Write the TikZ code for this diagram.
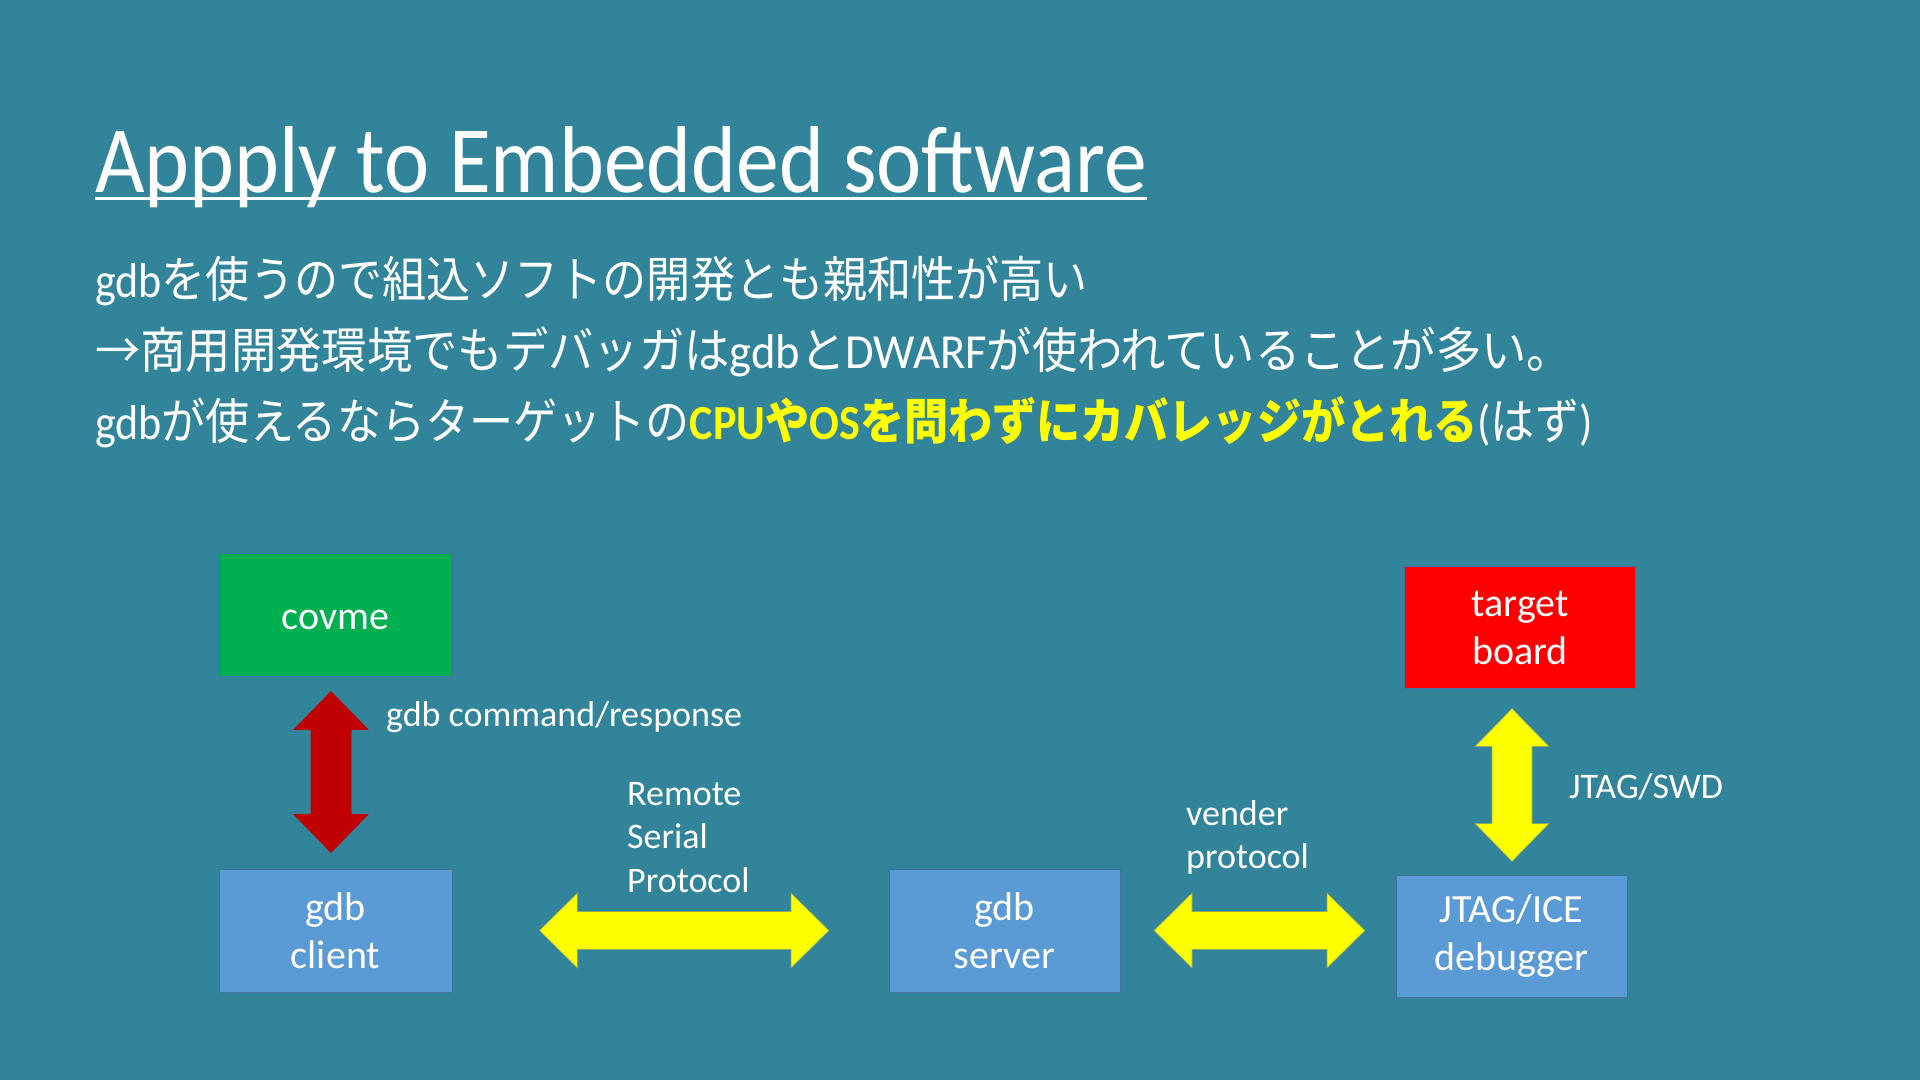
\documentclass[tikz,border=0pt]{standalone}
\usepackage{fontspec}
\setmainfont{Carlito}
\newfontfamily\titlefont[FakeStretch=0.9]{Carlito}
\newfontfamily\latfont[FakeStretch=0.9]{Carlito}
\newfontfamily\jpfont[FakeStretch=0.9]{Noto Sans CJK JP}
\newfontfamily\jpwidefont[FakeStretch=0.925]{Noto Sans CJK JP}
\newfontfamily\latwidefont[FakeStretch=0.95]{Carlito}
\usetikzlibrary{calc}
\definecolor{bg}{RGB}{50,132,155}
\definecolor{boxblue}{RGB}{91,155,213}
\definecolor{boxedge}{RGB}{65,113,156}
\definecolor{boxgreen}{RGB}{0,176,80}
\definecolor{boxred}{RGB}{255,0,0}
\definecolor{darkred}{RGB}{192,0,0}
\definecolor{arrowyellow}{RGB}{255,255,0}
\newcommand{\jpt}[1]{{\jpfont #1}}
\newcommand{\ltn}[1]{{\latfont #1}}
\newcommand{\jpw}[1]{{\jpwidefont #1}}
\newcommand{\ltw}[1]{{\latwidefont #1}}
% vertical double block arrow from top tip #1 to bottom tip #2
\newcommand{\dblvarrow}[3]{\filldraw[#3] (#1) -- ++(37,38) -- ++(-17,0) -- ($(#2)+(20,-38)$) -- ++(17,0) -- (#2) -- ++(-37,-38) -- ++(17,0) -- ($(#1)+(-20,38)$) -- ++(-17,0) -- cycle;}
% horizontal double block arrow from left tip #1 to right tip #2
\newcommand{\dblharrow}[3]{\filldraw[#3] (#1) -- ++(38,-37.5) -- ++(0,18.5) -- ($(#2)+(-38,-19)$) -- ++(0,-18.5) -- (#2) -- ++(-38,37.5) -- ++(0,-18.5) -- ($(#1)+(38,19)$) -- ++(0,18.5) -- cycle;}
\tikzset{
  txt/.style={text=white, inner sep=0pt, anchor=base west},
  jpline/.style={txt, font=\fontsize{49}{59}\selectfont},
  lbl/.style={text=white, inner sep=0pt, font=\fontsize{36}{43.5}\selectfont, align=left},
  box/.style={draw=boxedge, line width=1pt, text=white, align=center,
    font=\fontsize{40}{48}\selectfont, inner sep=0pt},
  yarrow/.style={fill=arrowyellow, draw=boxedge!60!arrowyellow, line width=0.6pt},
  rarrow/.style={fill=darkred, draw=darkred, line width=0.6pt}
}
\begin{document}
\begin{tikzpicture}[x=1pt, y=-1pt]
\useasboundingbox (0,0) rectangle (1920,1080);
\fill[bg] (0,0) rectangle (1920,1080);

% title
\node[txt, font=\titlefont\fontsize{95}{114}\selectfont] (title) at (95,192) {Appply to Embedded software};
\draw[white, line width=3pt] ($(title.base west)+(0,6.5)$) -- ($(title.base east)+(0,6.5)$);

% body text
\node[jpline] (l1) at (95,297) {\ltn{gdb}\jpt{を使うので組込ソフトの開発とも親和性が高い}};
\node[jpline] (l2) at (95,368) {\jpw{→商用開発環境でもデバッガは}\ltw{gdb}\jpw{と}\ltw{DWARF}\jpw{が使われていることが多い。}};
\node[jpline] (l3) at (95,439) {\ltn{gdb}\jpt{が使えるならターゲットの}\textcolor{arrowyellow}{\bfseries\ltn{CPU}\jpt{や}\ltn{OS}\jpt{を問わずにカバレッジがとれる}}\ltn{(}\jpt{はず}\ltn{)}};

% boxes
\node[box, fill=boxgreen, minimum width=233pt, minimum height=123pt] (covme) at (335.5,614.5) {\raisebox{-5pt}[\height][\depth]{covme}};
\node[box, fill=boxblue, minimum width=233pt, minimum height=123pt] (client) at (335.5,930.5) {gdb\\client};
\node[box, fill=boxblue, minimum width=231pt, minimum height=123pt] (server) at (1004.5,930.5) {gdb\\server};
\node[box, fill=boxblue, minimum width=231pt, minimum height=122pt] (jtag) at (1511.5,936) {JTAG/ICE\\debugger};
\node[box, fill=boxred, minimum width=231pt, minimum height=122pt] (board) at (1520,627.5) {target\\board};

% arrow end points
\coordinate (r1) at ($(covme.south)+(-4.5,15)$);
\coordinate (r2) at ($(client.north)+(-4.5,-16)$);
\coordinate (y1a) at ($(client.east)+(87,0)$);
\coordinate (y1b) at ($(server.west)+(-59.5,0)$);
\coordinate (y2a) at ($(server.east)+(33.5,0)$);
\coordinate (y2b) at ($(jtag.west)+(-30.5,-5.5)$);
\coordinate (v1) at ($(board.south)+(-8,19.5)$);
\coordinate (v2) at ($(jtag.north)+(0.5,-13)$);

% connectors
\dblvarrow{r1}{r2}{rarrow}
\dblharrow{y1a}{y1b}{yarrow}
\dblharrow{y2a}{y2b}{yarrow}
\dblvarrow{v1}{v2}{yarrow}

% labels
\node[lbl, anchor=base west] (lcmd) at (386,726) {gdb command/response};
\node[lbl, anchor=north west] (lrsp) at (627,782) {Remote\\Serial\\Protocol};
\node[lbl, anchor=north west] (lven) at (1186,800) {vender\\protocol};
\node[lbl, anchor=base west] (ljtag) at (1569,798) {JTAG/SWD};
\end{tikzpicture}
\end{document}
